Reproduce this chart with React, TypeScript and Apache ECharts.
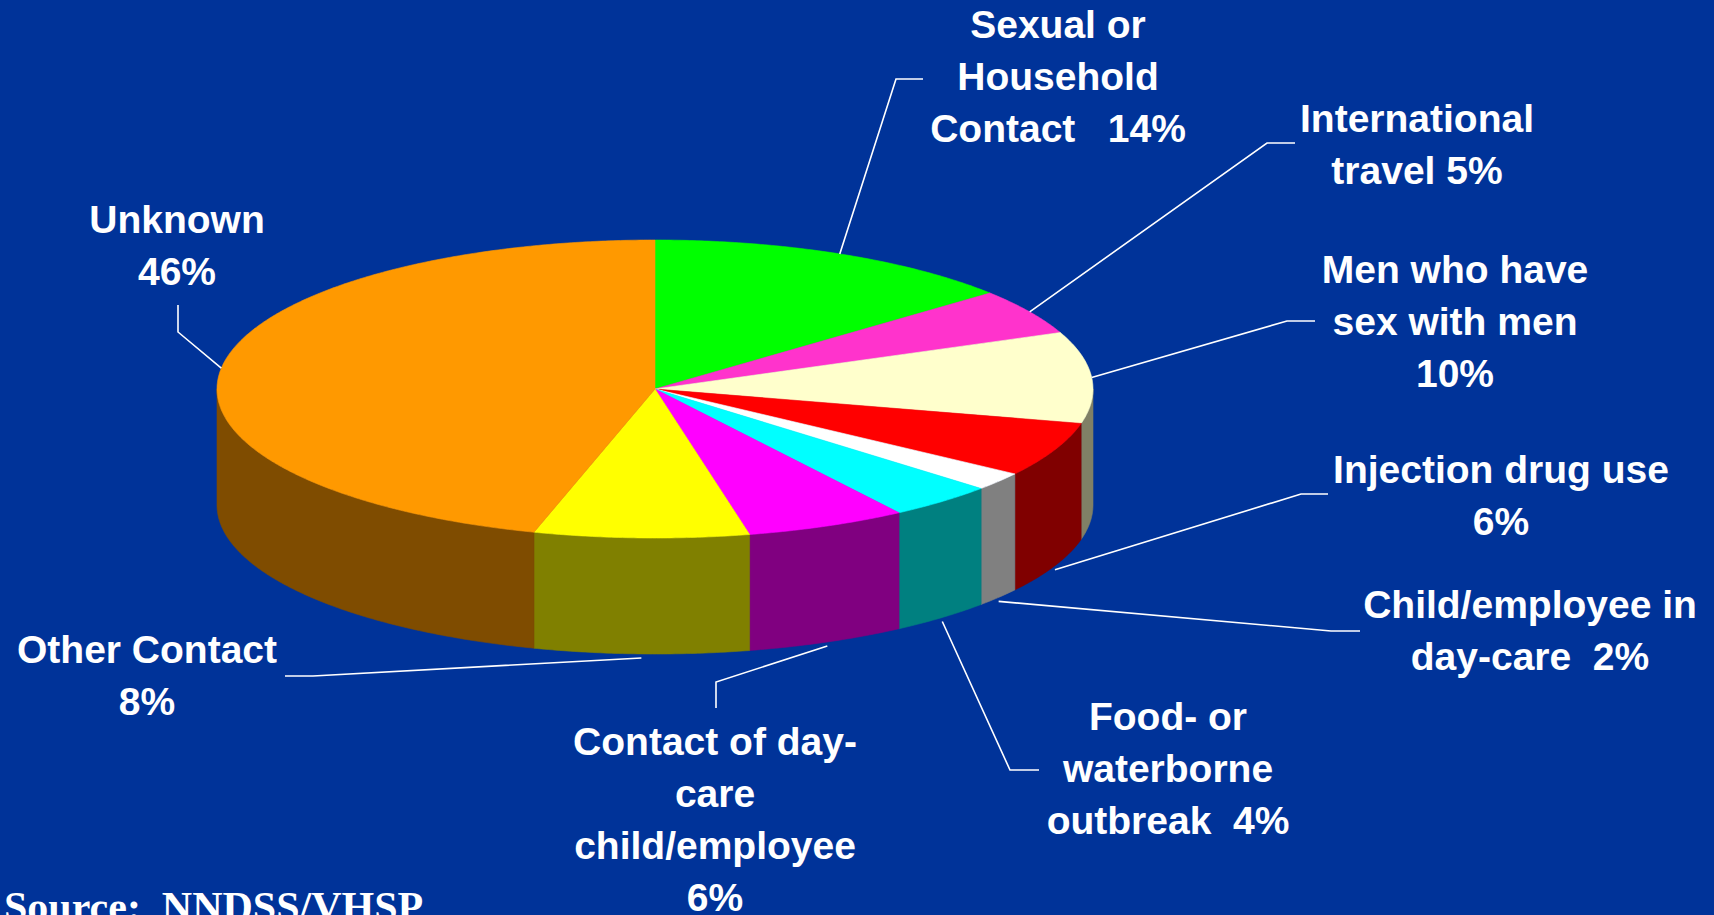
import React, { useEffect, useRef } from 'react';
import * as echarts from 'echarts';

// ---- data ----
const categories = [
  'Sexual or Household Contact',
  'International travel',
  'Men who have sex with men',
  'Injection drug use',
  'Child/employee in day-care',
  'Food- or waterborne outbreak',
  'Contact of day-care child/employee',
  'Other Contact',
  'Unknown',
];
const values = [14, 5, 10, 6, 2, 4, 6, 8, 46];
const labelTemplates = [
  'Sexual or\nHousehold\nContact   {v}%',
  'International\ntravel {v}%',
  'Men who have\nsex with men\n{v}%',
  'Injection drug use\n{v}%',
  'Child/employee in\nday-care  {v}%',
  'Food- or\nwaterborne\noutbreak  {v}%',
  'Contact of day-\ncare\nchild/employee\n{v}%',
  'Other Contact\n{v}%',
  'Unknown\n{v}%',
];
const topColors = ['#00FF00', '#FF33CC', '#FFFFCC', '#FF0000', '#FFFFFF', '#00FFFF', '#FF00FF', '#FFFF00', '#FF9900'];
const sideColors = ['#008000', '#801966', '#808066', '#800000', '#808080', '#008080', '#800080', '#808000', '#7F4C00'];
const sourceText = 'Source:  NNDSS/VHSP';

// ---- layout (label centre x, first baseline y; leader elbow; leader end) ----
const labelPos = [[1058, 38], [1417, 132], [1455, 283], [1501, 483], [1530, 618], [1168, 730], [715, 755], [147, 663], [177, 233]];
const leaderElbow = [[896, 79], [1267, 143], [1287, 321], [1301, 494], [1331, 631], [1010, 770], [716, 682], [313, 676], [178, 332]];
const leaderEnd = [[923, 79], [1295, 143], [1315, 321], [1328, 494], [1360, 631], [1039, 770], [716, 708], [285, 676], [178, 305]];

const CX = 655, CY = 389, RX = 438, RY = 149, DEPTH = 116;
const FONT_SIZE = 39, LINE_H = 52;

export default function App() {
  const ref = useRef<HTMLDivElement>(null);
  useEffect(() => {
    document.body.style.margin = '0';
    const chart = echarts.init(ref.current!, null, { renderer: 'svg' });
    const total = values.reduce((a, b) => a + b, 0);
    const cum: number[] = [];
    values.reduce((acc, v, i) => { cum[i] = acc; return acc + v; }, 0);

    const pt = (deg: number, dy = 0) => {
      const r = (deg * Math.PI) / 180;
      return [CX + RX * Math.sin(r), CY - RY * Math.cos(r) + dy];
    };
    const arc = (s: number, e: number, dy: number) => {
      const pts: number[][] = [];
      const n = Math.max(2, Math.ceil((e - s) / 0.5));
      for (let k = 0; k <= n; k++) pts.push(pt(s + ((e - s) * k) / n, dy));
      return pts;
    };

    const option: any = {
      animation: false,
      backgroundColor: '#003399',
      series: [
        {
          type: 'custom',
          coordinateSystem: 'none',
          data: values.map((v, i) => ({ name: categories[i], value: [v, cum[i]] })),
          renderItem: (params: any, api: any) => {
            const i = params.dataIndex;
            const v = api.value(0);
            const c0 = api.value(1);
            const a0 = (c0 / total) * 360;
            const a1 = ((c0 + v) / total) * 360;
            const children: any[] = [];
            const s = Math.max(a0, 90), e = Math.min(a1, 270);
            if (e > s) {
              const top = arc(s, e, 0);
              const bot = arc(s, e, DEPTH).reverse();
              children.push({
                type: 'polygon',
                shape: { points: top.concat(bot) },
                style: { fill: sideColors[i], stroke: sideColors[i], lineWidth: 0.6 },
              });
            }
            children.push({
              type: 'polygon',
              shape: { points: [[CX, CY]].concat(arc(a0, a1, 0)) },
              style: { fill: topColors[i], stroke: topColors[i], lineWidth: 0.6 },
            });
            const mid = (a0 + a1) / 2;
            const anchor = mid > 90 && mid < 270 ? pt(mid, DEPTH + 4) : pt(mid, 0);
            children.push({
              type: 'polyline',
              shape: { points: [anchor, leaderElbow[i], leaderEnd[i]] },
              style: { stroke: '#FFFFFF', lineWidth: 1.6, fill: 'none' },
            });
            const text = labelTemplates[i].replace('{v}', String(v));
            children.push({
              type: 'text',
              x: labelPos[i][0],
              y: labelPos[i][1] - (LINE_H / 2 + 0.3465 * FONT_SIZE),
              style: {
                text,
                fill: '#FFFFFF',
                fontFamily: '"Liberation Sans", Arial, sans-serif',
                fontWeight: 'bold',
                fontSize: FONT_SIZE,
                lineHeight: LINE_H,
                align: 'center',
                verticalAlign: 'top',
              },
            });
            return { type: 'group', children };
          },
        },
      ],
      graphic: [
        {
          type: 'text',
          left: 4,
          top: 886,
          style: {
            text: sourceText,
            fill: '#FFFFFF',
            fontFamily: '"Liberation Serif", "Times New Roman", serif',
            fontWeight: 'bold',
            fontSize: 42,
            lineHeight: 42,
          },
        },
      ],
    };
    chart.setOption(option);
    return () => chart.dispose();
  }, []);
  return <div ref={ref} style={{ width: 1714, height: 915 }} />;
}
